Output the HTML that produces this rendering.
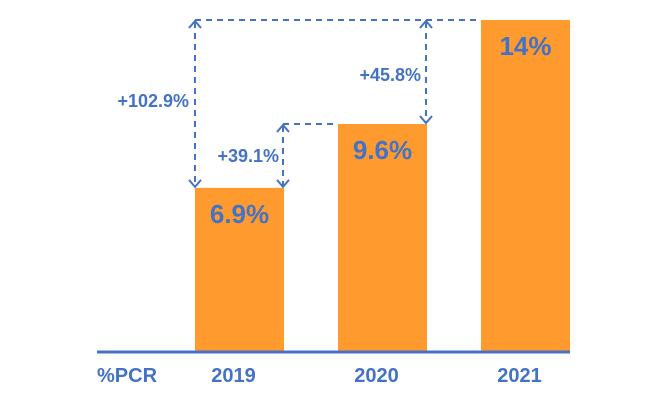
<!DOCTYPE html>
<html><head><meta charset="utf-8"><style>
body{margin:0;background:#fff;}
svg text{font-family:"Liberation Sans",sans-serif;font-weight:bold;}
</style></head><body>
<svg width="666" height="413" viewBox="0 0 666 413">
<g id="bars"></g>
<g id="ann"></g>
</svg>
<script>
const categories=["2019","2020","2021"];
const values=[6.9,9.6,14];
const valueLabels=["6.9%","9.6%","14%"];
const growthLabels=["+39.1%","+45.8%","+102.9%"];
const base=351, top14=20, barW=89;
function y(v){return base-(base-top14)*v/14;}
function x(i){return 195+i*143;}
const NS="http://www.w3.org/2000/svg";
const svg=document.querySelector('svg'), g=document.getElementById('bars'), a=document.getElementById('ann');
function mk(tag,attrs,parent){const e=document.createElementNS(NS,tag);for(const k in attrs)e.setAttribute(k,attrs[k]);parent.appendChild(e);return e;}
categories.forEach((c,i)=>{
  const r=mk('rect',{x:x(i),y:y(values[i]),width:barW,height:base-y(values[i]),fill:'#FF9A2E'},g);
  
  
  const t=mk('text',{x:x(i)+barW/2,y:y(values[i])+35,'text-anchor':'middle','font-size':26,fill:'#4472C4'},g);
  t.textContent=valueLabels[i];
  
  
  const l=mk('text',{x:x(i)+barW/2-6,y:382,'text-anchor':'middle','font-size':20,fill:'#4472C4'},g);
  l.textContent=c;
  
  
});
const ax=mk('line',{x1:97,y1:352,x2:570,y2:352,stroke:'#4472C4','stroke-width':3},g);


const pl=mk('text',{x:97,y:382,'font-size':20,fill:'#4472C4'},g);
pl.textContent='%PCR';


const ds={stroke:'#4472C4','stroke-width':2,'stroke-dasharray':'6,5',fill:'none'};
function dline(x1,y1,x2,y2,name){const l=mk('line',Object.assign({x1,y1,x2,y2},ds),a);}
function head(px,py,dir){const d=dir*7;const p=mk('polyline',{points:`${px-6},${py+d} ${px},${py} ${px+6},${py+d}`,stroke:'#4472C4','stroke-width':2,fill:'none'},a);}
function varrow(px,y1,y2,name){dline(px,y1+2,px,y2-2,name);head(px,y1+1,1);head(px,y2-1,-1);}
// 2019->2020
const x0=x(0)+barW-1, x1=x(1)+barW-1, xs=x(0);
varrow(x0,y(values[1]),y(values[0]),'arrow-2019-2020');
dline(x0,y(values[1]),x(1),y(values[1]),'guide-2020');
varrow(x1,y(values[2]),y(values[1]),'arrow-2020-2021');
varrow(xs,y(values[2]),y(values[0]),'arrow-2019-2021');
dline(xs,y(values[2]),x(2),y(values[2]),'guide-2021');
[[x0-4,162,'end',0],[x1-5,81,'end',1],[xs-6,107,'end',2]].forEach(([tx,ty,an,i])=>{
  const t=mk('text',{x:tx,y:ty,'text-anchor':an,'font-size':18,fill:'#4472C4'},a);
  t.textContent=growthLabels[i];
  
  
});
</script>
</body></html>
